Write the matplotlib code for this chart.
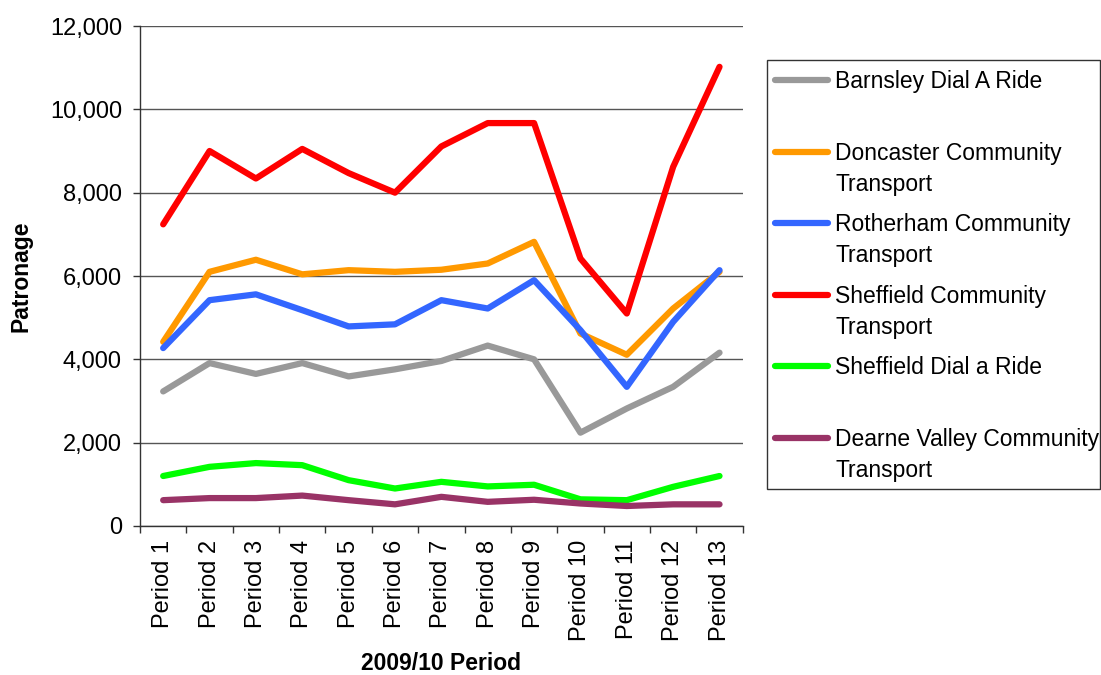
import matplotlib
matplotlib.use("Agg")
import matplotlib.pyplot as plt
from matplotlib.lines import Line2D
from matplotlib.patches import Rectangle
import numpy as np

plt.rcParams['font.family'] = ['Liberation Sans', 'DejaVu Sans']

periods = ["Period %d" % i for i in range(1, 14)]

barnsley = [3230, 3910, 3650, 3910, 3590, 3760, 3960, 4330, 4000, 2240, 2820, 3340, 4160]
doncaster = [4420, 6100, 6390, 6040, 6140, 6100, 6150, 6300, 6820, 4620, 4110, 5220, 6100]
rotherham = [4270, 5420, 5560, 5180, 4790, 4840, 5420, 5220, 5900, 4700, 3340, 4900, 6140]
sheffield_ct = [7240, 9000, 8340, 9050, 8470, 8000, 9110, 9670, 9670, 6420, 5100, 8620, 11020]
sheffield_dar = [1200, 1420, 1510, 1460, 1100, 900, 1060, 950, 990, 640, 620, 940, 1200]
dearne = [620, 670, 670, 730, 620, 520, 700, 580, 630, 540, 480, 520, 520]

series_names = ["Barnsley Dial A Ride",
                "Doncaster Community\nTransport",
                "Rotherham Community\nTransport",
                "Sheffield Community\nTransport",
                "Sheffield Dial a Ride",
                "Dearne Valley Community\nTransport"]
series_values = [barnsley, doncaster, rotherham, sheffield_ct, sheffield_dar, dearne]
colors = ["#999999", "#FF9900", "#3366FF", "#FF0000", "#00FF00", "#993366"]

W, H = 1101, 675
fig = plt.figure(figsize=(W / 100, H / 100), dpi=100)
ax = fig.add_axes([140 / W, (H - 526) / H, (742.7 - 140) / W, 500 / H])

x = np.arange(1, len(periods) + 1)
for vals, c in zip(series_values, colors):
    ax.plot(x, vals, color=c, lw=4.5, solid_capstyle='round', solid_joinstyle='round', zorder=3)

ax.set_xlim(0.5, len(periods) + 0.5)
ax.set_ylim(0, 12000)
ax.set_yticks(np.arange(0, 12001, 2000))
ax.set_yticklabels(["{:,}".format(v) for v in range(0, 12001, 2000)], fontsize=17)
ax.yaxis.grid(True, color="#555555", lw=1)
ax.set_axisbelow(True)

ax.set_xticks(np.arange(0.5, len(periods) + 1, 1.0))
ax.set_xticklabels([])
ax.set_xticks(x, minor=True)
ax.set_xticklabels(periods, minor=True, rotation=90, fontsize=17)
ax.tick_params(axis='x', which='minor', length=0, pad=10)
ax.tick_params(axis='x', which='major', length=5, width=1, direction='out', color='#333333')
ax.tick_params(axis='y', length=5, width=1, direction='out', pad=8, color='#333333')

for s in ['top', 'right']:
    ax.spines[s].set_visible(False)
for s in ['left', 'bottom']:
    ax.spines[s].set_color('#333333')
    ax.spines[s].set_linewidth(1)

ax.set_ylabel("Patronage", fontsize=16.5, fontweight='bold', va='center')
ax.yaxis.set_label_coords(-0.197, 0.5)
ax.set_xlabel("2009/10 Period", fontsize=16.5, fontweight='bold', va='center')
ax.xaxis.set_label_coords(0.5, -0.274)

# legend drawn in pixel coordinates
def fx(px):
    return px / W

def fy(py):
    return (H - py) / H

fig.add_artist(Rectangle((fx(767), fy(488.5)), fx(1100) - fx(767), fy(60) - fy(488.5),
                         transform=fig.transFigure, fill=False, ec='#333333', lw=1))
entry_y = [80, 151.5, 223, 294.5, 366, 437.5]
for name, c, ey in zip(series_names, colors, entry_y):
    fig.add_artist(Line2D([fx(775), fx(828)], [fy(ey), fy(ey)], color=c, lw=4.5,
                          solid_capstyle='round', transform=fig.transFigure))
    for k, line in enumerate(name.split("\n")):
        fig.text(fx(835), fy(ey + 8.3 + 31 * k), line, fontsize=16.5,
                 ha='left', va='baseline')

fig.savefig("out.png", dpi=100)
